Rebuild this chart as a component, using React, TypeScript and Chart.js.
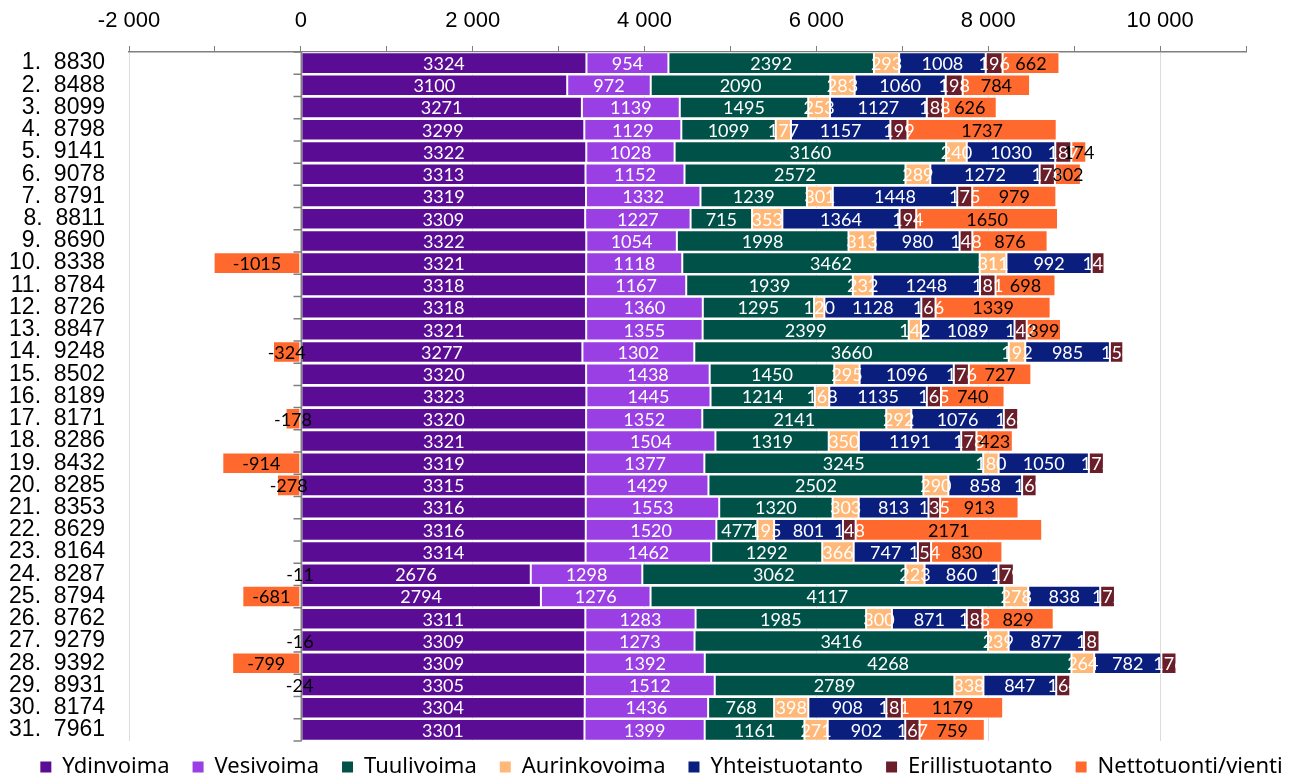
import React, { useEffect, useRef } from 'react';
import { Chart, registerables } from 'chart.js';

Chart.register(...registerables);

const seriesNames = ['Ydinvoima', 'Vesivoima', 'Tuulivoima', 'Aurinkovoima', 'Yhteistuotanto', 'Erillistuotanto', 'Nettotuonti/vienti'];

const dayTotals = [8830, 8488, 8099, 8798, 9141, 9078, 8791, 8811, 8690, 8338, 8784, 8726, 8847, 9248, 8502, 8189, 8171, 8286, 8432, 8285, 8353, 8629, 8164, 8287, 8794, 8762, 9279, 9392, 8931, 8174, 7961];

const ydinvoima = [3324, 3100, 3271, 3299, 3322, 3313, 3319, 3309, 3322, 3321, 3318, 3318, 3321, 3277, 3320, 3323, 3320, 3321, 3319, 3315, 3316, 3316, 3314, 2676, 2794, 3311, 3309, 3309, 3305, 3304, 3301];
const vesivoima = [954, 972, 1139, 1129, 1028, 1152, 1332, 1227, 1054, 1118, 1167, 1360, 1355, 1302, 1438, 1445, 1352, 1504, 1377, 1429, 1553, 1520, 1462, 1298, 1276, 1283, 1273, 1392, 1512, 1436, 1399];
const tuulivoima = [2392, 2090, 1495, 1099, 3160, 2572, 1239, 715, 1998, 3462, 1939, 1295, 2399, 3660, 1450, 1214, 2141, 1319, 3245, 2502, 1320, 477, 1292, 3062, 4117, 1985, 3416, 4268, 2789, 768, 1161];
const aurinkovoima = [293, 283, 253, 177, 240, 289, 301, 353, 313, 311, 232, 120, 142, 192, 295, 168, 292, 350, 180, 290, 303, 195, 366, 223, 278, 300, 239, 264, 338, 398, 271];
const yhteistuotanto = [1008, 1060, 1127, 1157, 1030, 1272, 1448, 1364, 980, 992, 1248, 1128, 1089, 985, 1096, 1135, 1076, 1191, 1050, 858, 813, 801, 747, 860, 838, 871, 877, 782, 847, 908, 902];
const erillistuotanto = [196, 198, 188, 199, 187, 178, 175, 194, 148, 149, 181, 166, 142, 156, 176, 165, 168, 178, 175, 169, 135, 148, 154, 179, 172, 183, 181, 176, 164, 181, 167];
const nettotuonti = [662, 784, 626, 1737, 174, 302, 979, 1650, 876, -1015, 698, 1339, 399, -324, 727, 740, -178, 423, -914, -278, 913, 2171, 830, -11, -681, 829, -16, -799, -24, 1179, 759];

const xMin = -2000;
const xMax = 11000;
const xStep = 1000;

const seriesColors = ['#5A0C94', '#9A3FE4', '#005249', '#FFB878', '#0A1E7D', '#6A1E2A', '#FF692D'];
const labelColors = ['#ffffff', '#ffffff', '#ffffff', '#ffffff', '#ffffff', '#ffffff', '#000000'];

const fmtThousands = (v: number) => {
  const s = Math.abs(v).toString().replace(/\B(?=(\d{3})+(?!\d))/g, ' ');
  return (v < 0 ? '-' : '') + s;
};

const zeroAxisPlugin = {
  id: 'zeroAxis',
  afterDatasetsDraw(chart: any) {
    const { ctx, chartArea } = chart;
    const xs = chart.scales.x;
    const x0 = Math.round(xs.getPixelForValue(0)) + 0.5;
    const n = chart.data.labels.length;
    const h = (chartArea.bottom - chartArea.top) / n;
    ctx.save();
    ctx.strokeStyle = '#7f7f7f';
    ctx.lineWidth = 1.5;
    ctx.beginPath();
    ctx.moveTo(x0, chartArea.top);
    ctx.lineTo(x0, chartArea.bottom);
    for (let i = 0; i <= n; i++) {
      const y = chartArea.top + i * h;
      ctx.moveTo(x0 - 8, y);
      ctx.lineTo(x0, y);
    }
    ctx.stroke();
    ctx.restore();
  },
};

const segLabelsPlugin = {
  id: 'segLabels',
  afterDatasetsDraw(chart: any) {
    const ctx = chart.ctx;
    ctx.save();
    ctx.font = '18px Lato';
    ctx.textAlign = 'center';
    ctx.textBaseline = 'middle';
    chart.data.datasets.forEach((ds: any, di: number) => {
      const meta = chart.getDatasetMeta(di);
      if (meta.hidden) return;
      meta.data.forEach((bar: any, i: number) => {
        const v = ds.data[i];
        if (v === null || v === undefined || v === 0) return;
        const p = bar.getProps(['x', 'y', 'base'], true);
        ctx.fillStyle = labelColors[di];
        ctx.fillText(String(v), (p.x + p.base) / 2, p.y + 1);
      });
    });
    ctx.restore();
  },
};

// place the single-row bottom legend like the original (centre x ~661, text centre y ~767)
const legendPlacePlugin = {
  id: 'legendPlace',
  afterLayout(chart: any) {
    const lg = chart.legend;
    if (!lg) return;
    const dx = 661.5 - (lg.left + lg.right) / 2;
    lg.left += dx;
    lg.right += dx;
    const pad = lg.options.labels.padding;
    lg.top = 767 - pad - 11;
    lg.bottom = chart.height;
    lg.height = lg.bottom - lg.top;
  },
};

export default function App() {
  const ref = useRef<HTMLCanvasElement>(null);

  useEffect(() => {
    document.body.style.margin = '0';
    const categories = dayTotals.map((t, i) => `${i + 1}.  ${t}`);
    const seriesData = [ydinvoima, vesivoima, tuulivoima, aurinkovoima, yhteistuotanto, erillistuotanto, nettotuonti];
    const chart = new Chart(ref.current as HTMLCanvasElement, {
      type: 'bar',
      data: {
        labels: categories,
        datasets: seriesNames.map((name, i) => ({
          label: name,
          data: seriesData[i],
          backgroundColor: seriesColors[i],
          borderColor: '#ffffff',
          borderWidth: 1,
          borderSkipped: false,
          inflateAmount: 0,
          barPercentage: 0.97,
          categoryPercentage: 1,
        })),
      },
      options: {
        indexAxis: 'y',
        responsive: true,
        maintainAspectRatio: false,
        animation: false,
        layout: { padding: 0 },
        scales: {
          x: {
            type: 'linear',
            position: 'top',
            stacked: true,
            min: xMin,
            max: xMax,
            afterFit: (scale: any) => {
              scale.height = 52;
            },
            ticks: {
              stepSize: xStep,
              autoSkip: false,
              maxRotation: 0,
              padding: 12,
              color: '#000000',
              font: { family: 'Liberation Sans', size: 22 },
              callback: (v: any) => (Number(v) % 2000 === 0 ? fmtThousands(Number(v)) : ''),
            },
            grid: {
              color: (c: any) => (c.tick && c.tick.value % 2000 === 0 ? '#dcdcdc' : 'rgba(0,0,0,0)'),
              tickColor: '#7f7f7f',
              tickLength: 6,
              lineWidth: 1,
            },
            border: { display: true, color: '#7f7f7f', width: 1.5 },
          },
          y: {
            type: 'category',
            stacked: true,
            afterFit: (scale: any) => {
              scale.width = 129;
            },
            ticks: {
              padding: 24,
              autoSkip: false,
              crossAlign: 'near',
              color: '#000000',
              font: { family: 'Liberation Sans', size: 23 },
            },
            grid: { display: false, drawTicks: false },
            border: { display: false },
          },
          yRight: {
            type: 'linear',
            position: 'right',
            display: true,
            afterFit: (scale: any) => {
              scale.width = 48;
            },
            ticks: { display: false },
            grid: { display: false, drawTicks: false },
            border: { display: false },
          },
        },
        plugins: {
          tooltip: { enabled: false },
          legend: {
            position: 'bottom',
            align: 'center',
            maxHeight: 39,
            labels: {
              boxWidth: 11,
              boxHeight: 11,
              padding: 23,
              color: '#000000',
              font: { family: 'Noto Sans', size: 22 },
              generateLabels: (ch: any) =>
                (Chart.defaults.plugins.legend.labels.generateLabels as any)(ch).map((l: any) => ({
                  ...l,
                  strokeStyle: l.fillStyle,
                  lineWidth: 0,
                })),
            },
          },
        },
      },
      plugins: [legendPlacePlugin, zeroAxisPlugin, segLabelsPlugin],
    } as any);
    return () => chart.destroy();
  }, []);

  return (
    <div style={{ position: 'fixed', left: 0, top: 0, width: 1294, height: 780 }}>
      <canvas ref={ref} />
    </div>
  );
}
